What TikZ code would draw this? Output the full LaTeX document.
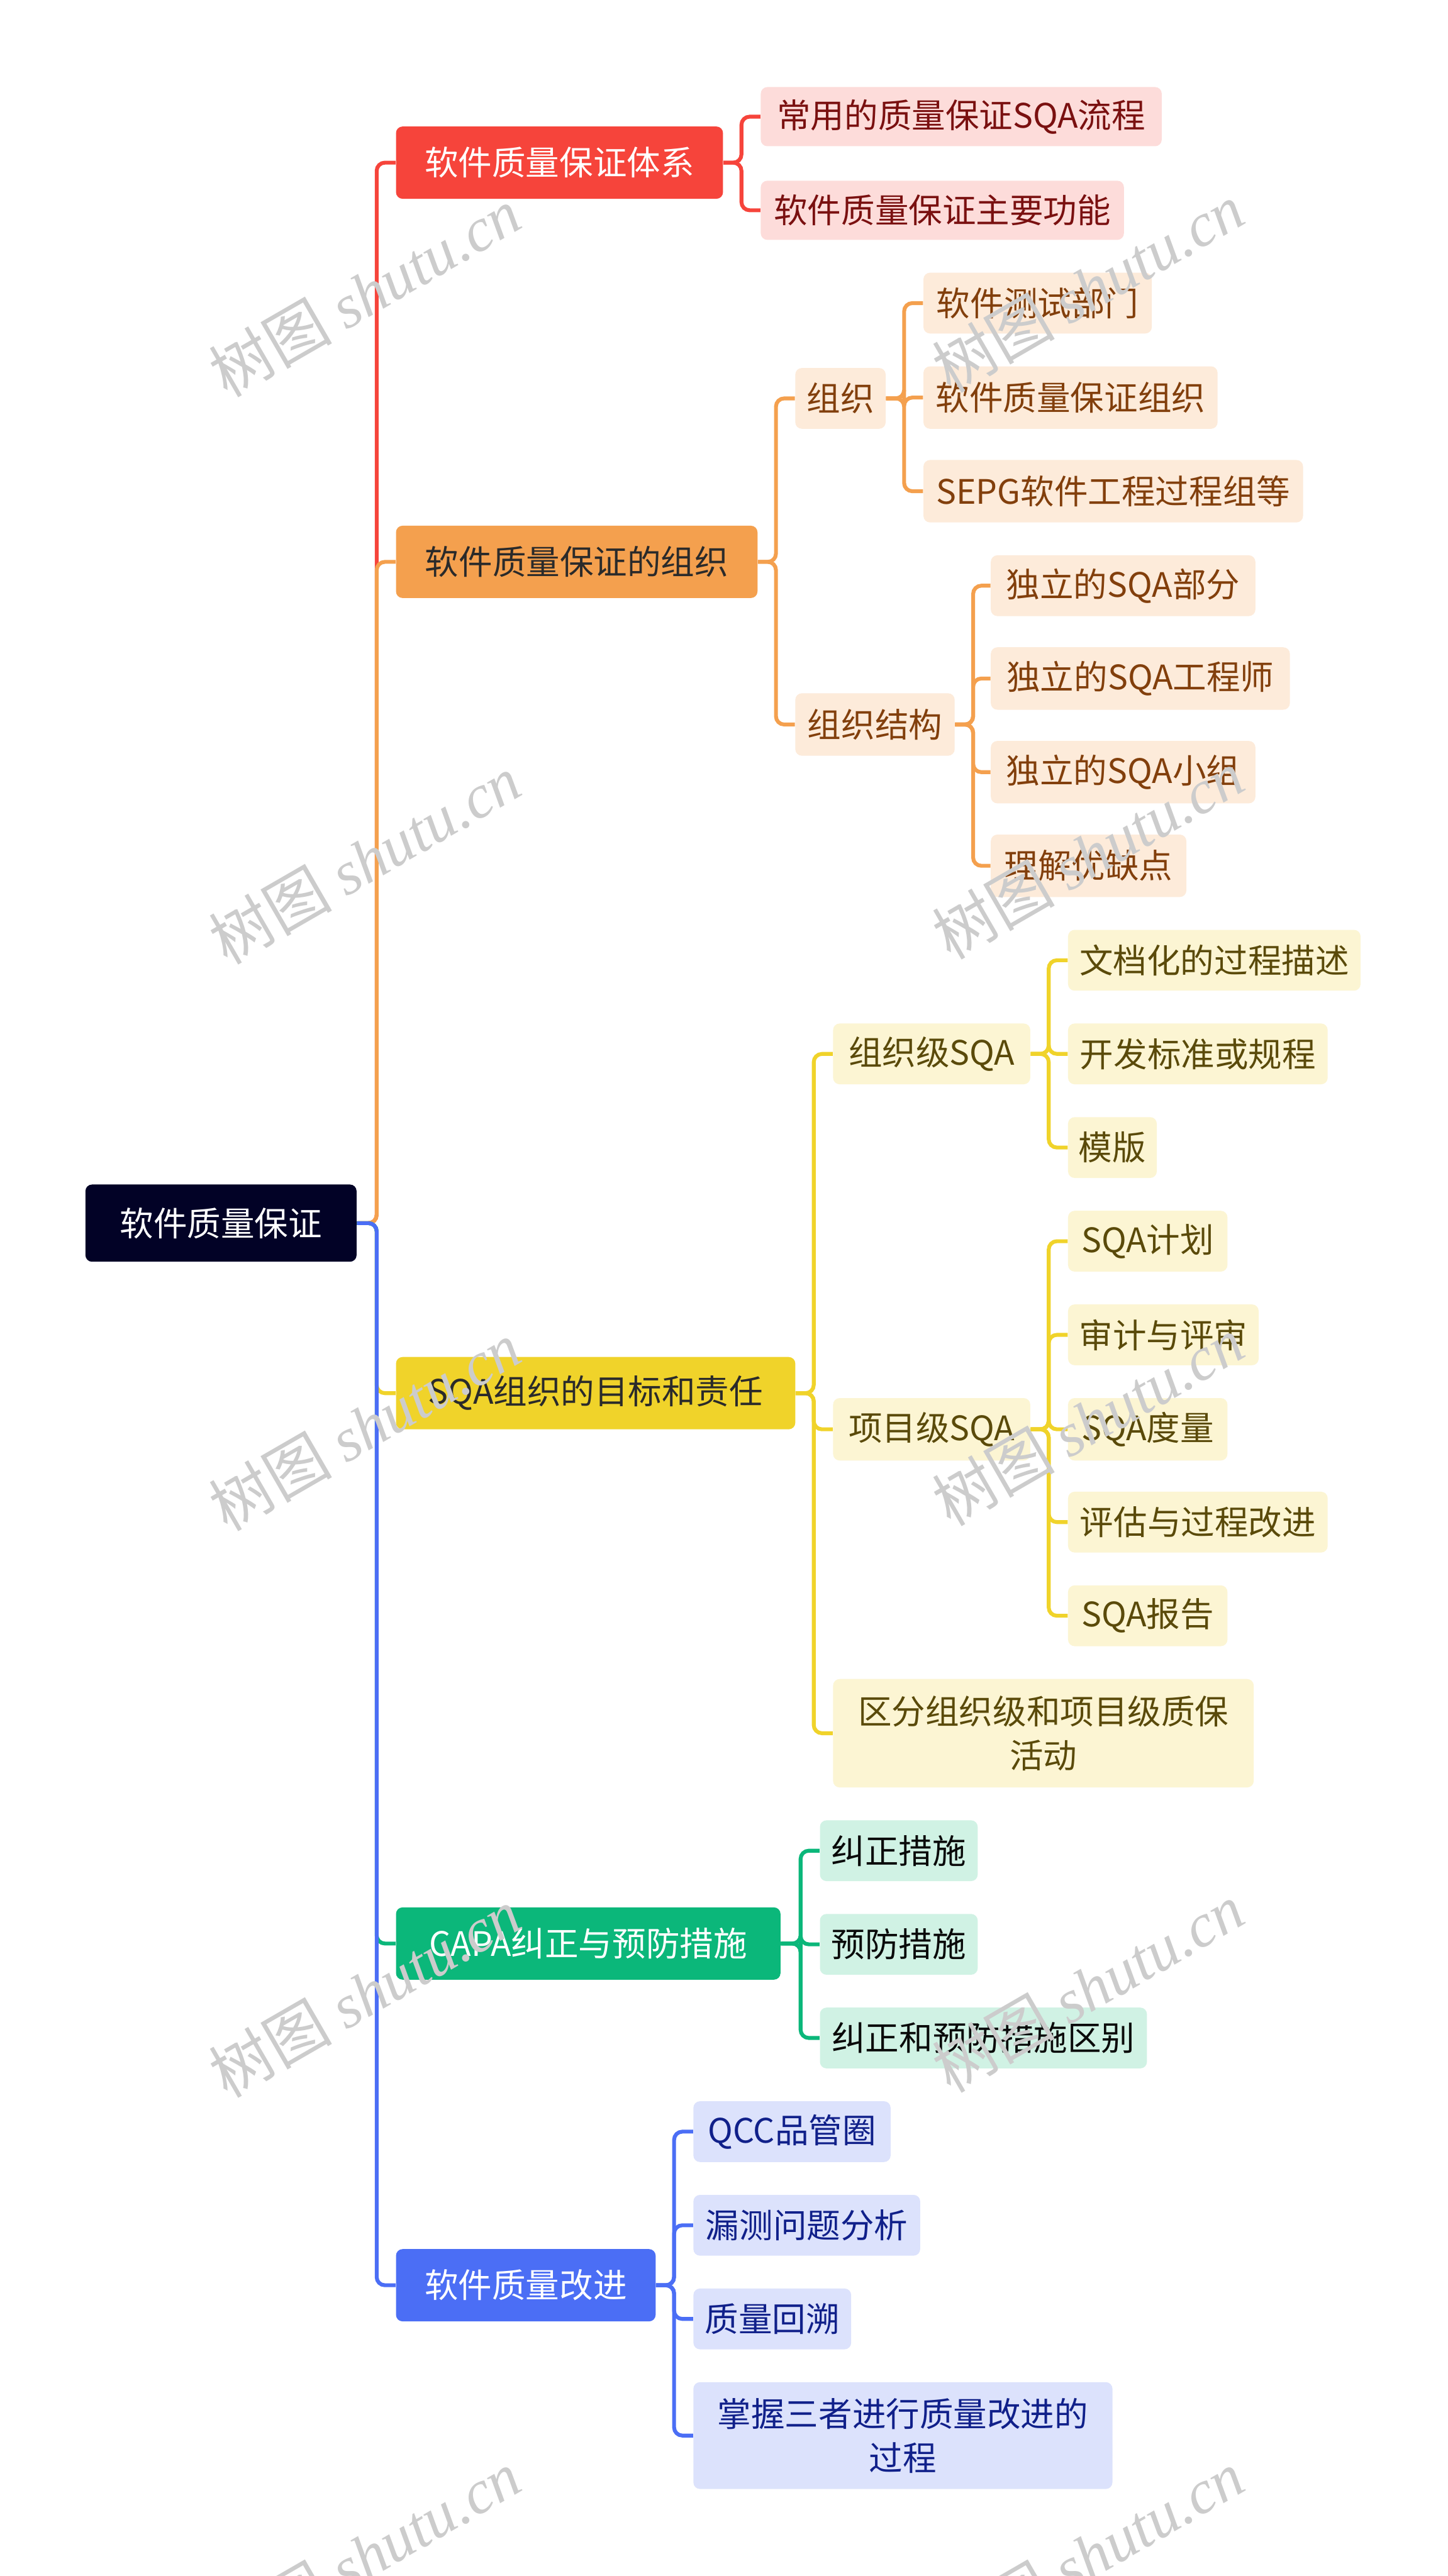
\documentclass[tikz,border=0pt]{standalone}
\usepackage{fontspec}
\setmainfont{Noto Sans CJK SC}
\newfontfamily\wmcjk{Noto Sans CJK SC}
\newfontfamily\wmlat{Liberation Serif}
\definecolor{rootc}{HTML}{020226}
\definecolor{redc}{HTML}{F6443B}
\definecolor{orac}{HTML}{F4A04E}
\definecolor{yelc}{HTML}{F0D32A}
\definecolor{grnc}{HTML}{0BB77A}
\definecolor{bluc}{HTML}{4B6EF5}
\definecolor{redl}{HTML}{FDDCDA}
\definecolor{oral}{HTML}{FDEBDA}
\definecolor{yell}{HTML}{FCF5D3}
\definecolor{grnl}{HTML}{D0F2E4}
\definecolor{blul}{HTML}{DCE2FC}
\definecolor{redt}{HTML}{7A1010}
\definecolor{orat}{HTML}{823F0C}
\definecolor{yelt}{HTML}{5A4A0A}
\definecolor{grnt}{HTML}{0A0A0A}
\definecolor{blut}{HTML}{10208A}
\definecolor{dark}{HTML}{2A2A2A}
\newcommand\bx[7]{\node[box,#6,minimum width={(#4-#2)*0.03cm},minimum height={(#5-#3)*0.03cm}] (#1) at ({(#2+#4)/2},{(#3+#5)/2}) {#7};}
\tikzset{
  box/.style={rectangle,rounded corners=0.12cm,inner sep=0pt,align=center,font=\fontsize{17.5}{23}\selectfont},
  rootbox/.style={fill=rootc,text=white},
  redbox/.style={fill=redc,text=white},
  orabox/.style={fill=orac,text=dark},
  yelbox/.style={fill=yelc,text=dark},
  grnbox/.style={fill=grnc,text=white},
  blubox/.style={fill=bluc,text=white},
  redsub/.style={fill=redl,text=redt},
  orasub/.style={fill=oral,text=orat},
  yelsub/.style={fill=yell,text=yelt},
  grnsub/.style={fill=grnl,text=grnt},
  blusub/.style={fill=blul,text=blut},
  link/.style={line width=2pt,rounded corners=0.15cm},
  wm/.style={text=gray!40,rotate=30,font=\fontsize{32}{34}\selectfont}
}
\begin{document}
\begin{tikzpicture}[x=0.03cm,y=-0.03cm]
\useasboundingbox[fill=white] (0,0) rectangle (881,1568);
% nodes
\bx{root}{52}{721}{217}{768}{rootbox}{软件质量保证}
\bx{a}{241}{77}{440}{121}{redbox}{软件质量保证体系}
\bx{b}{241}{320}{461}{364}{orabox}{软件质量保证的组织}
\bx{c}{241}{826}{484}{870}{yelbox}{SQA组织的目标和责任}
\bx{d}{241}{1161}{475}{1205}{grnbox}{CAPA纠正与预防措施}
\bx{e}{241}{1369}{399}{1413}{blubox}{软件质量改进}
% red children
\bx{a1}{463}{53}{707}{89}{redsub}{常用的质量保证SQA流程}
\bx{a2}{463}{110}{684}{146}{redsub}{软件质量保证主要功能}
% orange children
\bx{b1}{484}{224}{539}{261}{orasub}{组织}
\bx{b2}{484}{422}{581}{460}{orasub}{组织结构}
\bx{b11}{562}{166}{701}{203}{orasub}{软件测试部门}
\bx{b12}{562}{223}{741}{261}{orasub}{软件质量保证组织}
\bx{b13}{562}{280}{793}{318}{orasub}{SEPG软件工程过程组等}
\bx{b21}{603}{338}{764}{375}{orasub}{独立的SQA部分}
\bx{b22}{603}{394}{785}{432}{orasub}{独立的SQA工程师}
\bx{b23}{603}{451}{764}{489}{orasub}{独立的SQA小组}
\bx{b24}{603}{508}{722}{546}{orasub}{理解优缺点}
% yellow children
\bx{c1}{507}{623}{627}{660}{yelsub}{组织级SQA}
\bx{c2}{507}{851}{627}{889}{yelsub}{项目级SQA}
\bx{c3}{507}{1022}{763}{1088}{yelsub}{区分组织级和项目级质保\\活动}
\bx{c11}{650}{566}{828}{603}{yelsub}{文档化的过程描述}
\bx{c12}{650}{623}{808}{660}{yelsub}{开发标准或规程}
\bx{c13}{650}{680}{704}{717}{yelsub}{模版}
\bx{c21}{650}{737}{747}{774}{yelsub}{SQA计划}
\bx{c22}{650}{794}{766}{831}{yelsub}{审计与评审}
\bx{c23}{650}{851}{747}{889}{yelsub}{SQA度量}
\bx{c24}{650}{908}{808}{945}{yelsub}{评估与过程改进}
\bx{c25}{650}{965}{747}{1002}{yelsub}{SQA报告}
% green children
\bx{d1}{499}{1108}{595}{1145}{grnsub}{纠正措施}
\bx{d2}{499}{1165}{595}{1202}{grnsub}{预防措施}
\bx{d3}{499}{1222}{698}{1259}{grnsub}{纠正和预防措施区别}
% blue children
\bx{e1}{422}{1279}{542}{1316}{blusub}{QCC品管圈}
\bx{e2}{422}{1336}{560}{1373}{blusub}{漏测问题分析}
\bx{e3}{422}{1393}{518}{1430}{blusub}{质量回溯}
\bx{e4}{422}{1450}{677}{1515}{blusub}{掌握三者进行质量改进的\\过程}
% connectors: root to main
\draw[link,redc] (root.east) -- ++(12,0) |- (a.west);
\draw[link,orac] (root.east) -- ++(12,0) |- (b.west);
\draw[link,yelc] (root.east) -- ++(12,0) |- (c.west);
\draw[link,grnc] (root.east) -- ++(12,0) |- (d.west);
\draw[link,bluc] (root.east) -- ++(12,0) |- (e.west);
% red
\foreach \t in {a1,a2} \draw[link,redc] (a.east) -- ++(11,0) |- (\t.west);
% orange
\foreach \t in {b1,b2} \draw[link,orac] (b.east) -- ++(11,0) |- (\t.west);
\foreach \t in {b11,b12,b13} \draw[link,orac] (b1.east) -- ++(11,0) |- (\t.west);
\foreach \t in {b21,b22,b23,b24} \draw[link,orac] (b2.east) -- ++(11,0) |- (\t.west);
% yellow
\foreach \t in {c1,c2,c3} \draw[link,yelc] (c.east) -- ++(11,0) |- (\t.west);
\foreach \t in {c11,c12,c13} \draw[link,yelc] (c1.east) -- ++(11,0) |- (\t.west);
\foreach \t in {c21,c22,c23,c24,c25} \draw[link,yelc] (c2.east) -- ++(11,0) |- (\t.west);
% green
\foreach \t in {d1,d2,d3} \draw[link,grnc] (d.east) -- ++(12,0) |- (\t.west);
% blue
\foreach \t in {e1,e2,e3,e4} \draw[link,bluc] (e.east) -- ++(11,0) |- (\t.west);
% watermarks
\foreach \wx/\wy [count=\i] in {222/178,662/175,222/523,662/520,222/868,662/865,222/1213,662/1210,222/1555,662/1555}
  \node[wm] (wm\i) at (\wx,\wy) {{\wmcjk 树图} {\wmlat\itshape shutu.cn}};
\end{tikzpicture}
\end{document}
